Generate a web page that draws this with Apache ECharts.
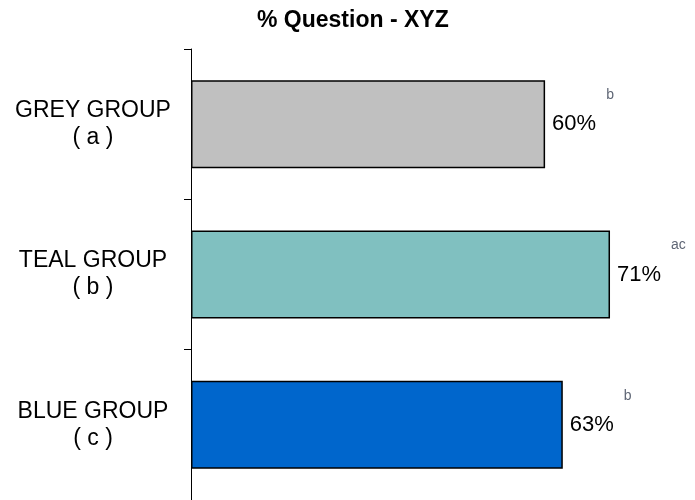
<!DOCTYPE html>
<html>
<head>
<meta charset="utf-8">
<script src="https://cdn.jsdelivr.net/npm/echarts@6/dist/echarts.min.js"></script>
<style>
  html, body { margin: 0; padding: 0; background: #fff; }
  #chart { width: 695px; height: 500px; }
</style>
</head>
<body>
<div id="chart"></div>
<script>
// Groups shown on the category axis, top to bottom
const groups = ['GREY GROUP', 'TEAL GROUP', 'BLUE GROUP'];
const groupCodes = ['a', 'b', 'c'];
// Percentage per group
const values = [60, 71, 63];
// Significance letters printed beside each value
const sigLetters = ['b', 'ac', 'b'];
// Bar fill per group
const barColors = ['#C0C0C0', '#80C0C0', '#0066CC'];

const FONT = '"Liberation Sans", Arial, sans-serif';

const chart = echarts.init(document.getElementById('chart'), null, { renderer: 'canvas' });

const categoryLabels = groups.map((g, i) => g + '\n( ' + groupCodes[i] + ' )');

chart.setOption({
  backgroundColor: '#ffffff',
  animation: false,
  title: {
    text: '% Question - XYZ',
    left: 257,
    top: 9,
    padding: 0,
    textStyle: { fontFamily: FONT, fontSize: 23, fontWeight: 'bold', color: '#000' }
  },
  grid: { left: 191, top: 49, right: 0, height: 451, containLabel: false },
  xAxis: {
    type: 'value',
    min: 0,
    max: 85.4,
    show: false
  },
  yAxis: {
    type: 'category',
    inverse: true,
    data: categoryLabels,
    axisLine: { show: true, lineStyle: { color: '#000', width: 1 } },
    axisTick: { show: true, length: 7, lineStyle: { color: '#000', width: 1 } },
    axisLabel: {
      fontFamily: FONT,
      fontSize: 23,
      color: '#000',
      align: 'center',
      margin: 98,
      lineHeight: 27
    },
    splitLine: { show: false }
  },
  series: [{
    type: 'bar',
    barWidth: 88,
    data: values.map((v, i) => ({
      value: v,
      itemStyle: { color: barColors[i] }
    })),
    itemStyle: { borderColor: '#000', borderWidth: 1.5 },
    label: {
      show: true,
      position: 'right',
      distance: 7,
      formatter: p => '{v|' + p.value + '%}{s|' + sigLetters[p.dataIndex] + '}',
      rich: {
        v: { fontFamily: FONT, fontSize: 22, color: '#000', lineHeight: 72 },
        s: { fontFamily: FONT, fontSize: 14, color: '#5f6675', lineHeight: 15,
             verticalAlign: 'top', padding: [0, 0, 0, 10] }
      }
    }
  }]
});
</script>
</body>
</html>
